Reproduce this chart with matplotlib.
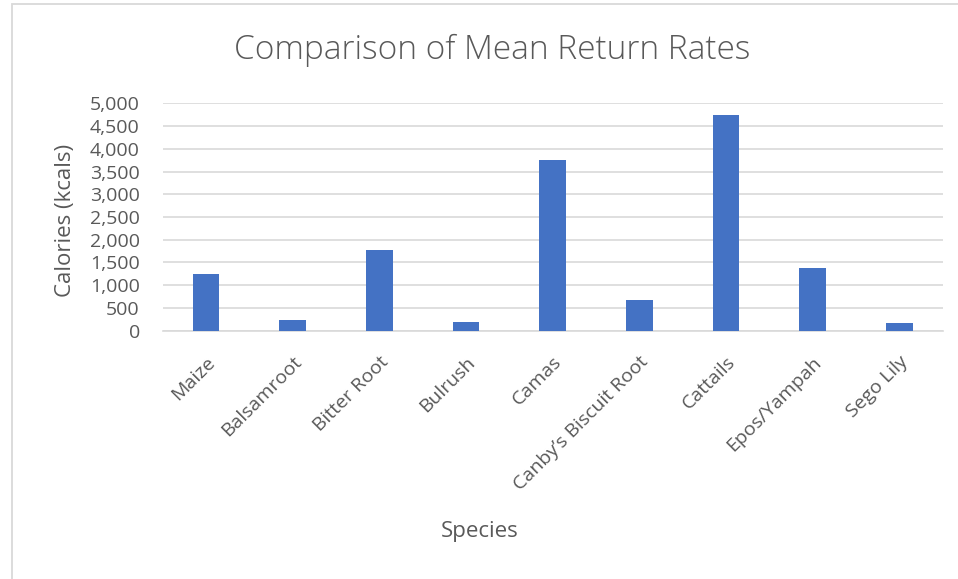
import matplotlib.pyplot as plt
from matplotlib.patches import Rectangle
from matplotlib.ticker import FuncFormatter, MultipleLocator

species = [
    "Maize", "Balsamroot", "Bitter Root", "Bulrush", "Camas",
    "Canby\u2019s Biscuit Root", "Cattails", "Epos/Yampah", "Sego Lily",
]
mean_kcals = [1240, 235, 1767, 198, 3745, 668, 4734, 1371, 163]

BAR_COLOR = "#4472C4"
TEXT_COLOR = "#595959"
GRID_COLOR = "#D9D9D9"

plt.rcParams["font.family"] = ["Open Sans", "DejaVu Sans"]

fig = plt.figure(figsize=(9.58, 5.79), dpi=100)
ax = fig.add_axes([0.1698, 0.4288, 0.8142, 0.3928])

# chart frame (only left and top edges fall inside the image)
fig.patches.append(Rectangle((11.5 / 958, -0.1), 1.2, 1 - 4.5 / 579 + 0.1,
                             transform=fig.transFigure, fill=False,
                             edgecolor=GRID_COLOR, linewidth=1.3))

x = range(len(species))
ax.bar(x, mean_kcals, width=0.31, color=BAR_COLOR, zorder=3)

ax.set_xlim(-0.5, len(species) - 0.5)
ax.set_ylim(0, 5000)
ax.yaxis.set_major_locator(MultipleLocator(500))
ax.yaxis.set_major_formatter(FuncFormatter(lambda v, _: f"{int(v):,}"))
ax.grid(axis="y", color=GRID_COLOR, linewidth=1.2, zorder=0)
ax.set_axisbelow(True)

for side in ("top", "right", "left"):
    ax.spines[side].set_visible(False)
ax.spines["bottom"].set_color(GRID_COLOR)
ax.spines["bottom"].set_linewidth(1.2)

ax.tick_params(axis="both", length=0, labelsize=14, labelcolor=TEXT_COLOR)
ax.tick_params(axis="y", pad=16.5)
ax.set_xticks(list(x))
ax.set_xticklabels(species, rotation=45, ha="right", va="top",
                   rotation_mode="anchor")
ax.tick_params(axis="x", pad=16)

fig.text(66 / 958, 1 - 220 / 579, "Calories (kcals)", fontsize=16,
         color=TEXT_COLOR, rotation=90, ha="center", va="center")
fig.text(480 / 958, 1 - 532 / 579, "Species", fontsize=16, color=TEXT_COLOR,
         ha="center", va="center")
fig.text(492 / 958, 1 - 50 / 579, "Comparison of Mean Return Rates",
         fontsize=24, color=TEXT_COLOR, ha="center", va="center",
         weight="light")

fig.savefig("out.png", dpi=100)
